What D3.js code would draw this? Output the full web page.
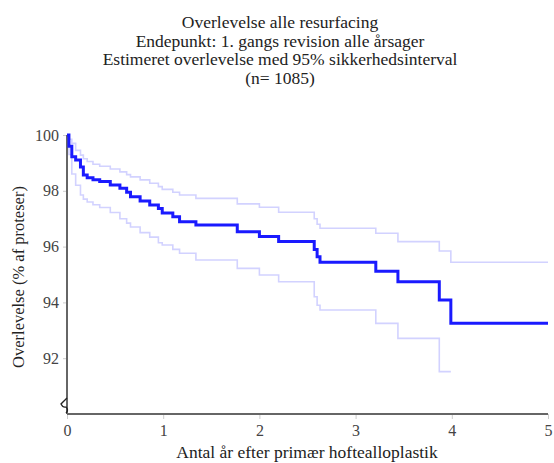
<!DOCTYPE html>
<html>
<head>
<meta charset="utf-8">
<script src="https://cdn.jsdelivr.net/npm/d3@7"></script>
<style>
  html, body { margin: 0; padding: 0; background: #fff; }
  svg { display: block; }
  svg text { font-family: "Liberation Serif", "DejaVu Serif", serif; fill: #333; }
</style>
</head>
<body>
<svg id="chart" width="554" height="463"></svg>
<script>
// Kaplan-Meier estimate with 95% confidence band
const titleLines = [
  "Overlevelse alle resurfacing",
  "Endepunkt: 1. gangs revision alle årsager",
  "Estimeret overlevelse med 95% sikkerhedsinterval",
  "(n= 1085)"
];
const years = [0, 0.02, 0.05, 0.09, 0.14, 0.17, 0.21, 0.27, 0.34, 0.45, 0.55, 0.62, 0.66, 0.76, 0.86, 0.95, 0.99,
  1.10, 1.17, 1.34, 1.77, 2.0, 2.2, 2.57, 2.6, 2.63, 3.21, 3.44, 3.87, 3.99, 5.0];
const survival = [100, 99.6, 99.22, 99.1, 98.85, 98.57, 98.47, 98.4, 98.33, 98.21, 98.09, 97.95, 97.79, 97.63, 97.49, 97.37, 97.2,
  97.07, 96.89, 96.77, 96.53, 96.36, 96.18, 95.9, 95.64, 95.44, 95.12, 94.74, 94.09, 93.25, 93.25];
const upperCI = [100, 99.85, 99.7, 99.45, 99.28, 99.15, 99.05, 98.95, 98.88, 98.78, 98.68, 98.58, 98.5, 98.39, 98.27, 98.15, 98.05,
  97.95, 97.85, 97.73, 97.53, 97.41, 97.23, 97.0, 96.8, 96.66, 96.48, 96.18, 95.84, 95.44, 95.44];
const lowerCI = [100, 99.3, 98.6, 98.2, 97.85, 97.7, 97.6, 97.5, 97.4, 97.22, 97.0, 96.84, 96.7, 96.5, 96.34, 96.14, 96.06,
  95.9, 95.76, 95.52, 95.22, 94.98, 94.74, 94.2, 93.9, 93.73, 93.25, 92.71, 91.52, 91.52, null];
const xTicks = [0, 1, 2, 3, 4, 5];
const yTicks = [92, 94, 96, 98, 100];
const xLabel = "Antal år efter primær hoftealloplastik";
const yLabel = "Overlevelse (% af proteser)";

const FONT = "'Liberation Serif', 'DejaVu Serif', serif";
const svg = d3.select("#chart");
const m = { left: 67, right: 548, top: 135, bottom: 414 };

const x = d3.scaleLinear().domain([0, 5]).range([m.left, m.right]);
const y = d3.scaleLinear().domain([90, 100]).range([m.bottom, m.top]);

// Title block
svg.append("g").selectAll("text").data(titleLines).join("text")
  .attr("x", 280).attr("y", (d, i) => 28 + i * 18.7)
  .attr("text-anchor", "middle")
  .style("font-family", FONT)
  .style("font-size", "17.5px")
  .style("fill", "#222")
  .text(d => d);

// Axes
const xAxis = svg.append("g").attr("transform", `translate(0,${m.bottom})`)
  .call(d3.axisBottom(x).tickValues(xTicks).tickSize(5).tickPadding(6).tickFormat(d3.format("d")));
const yAxis = svg.append("g").attr("transform", `translate(${m.left},0)`)
  .call(d3.axisLeft(y).tickValues(yTicks).tickSize(4).tickPadding(4).tickFormat(d3.format("d")));

[xAxis, yAxis].forEach(g => {
  g.attr("font-family", null);
  g.select(".domain").remove();
  g.selectAll(".tick line").attr("stroke", "#ccc").attr("stroke-width", 1);
  g.selectAll(".tick text").style("font-size", "16px").style("fill", "#444")
    .style("font-family", FONT);
});

svg.append("line")
  .attr("x1", m.left).attr("x2", m.left).attr("y1", y(100)).attr("y2", y(90))
  .attr("stroke", "#666").attr("stroke-width", 2);
svg.append("line")
  .attr("x1", m.left).attr("x2", x(5)).attr("y1", y(90)).attr("y2", y(90))
  .attr("stroke", "#666").attr("stroke-width", 2);

// Axis break mark
svg.append("path")
  .attr("d", `M${m.left},${y(90) - 16} L${m.left - 6},${y(90) - 10} Q${m.left - 4},${y(90) - 6} ${m.left - 1},${y(90) - 7} Q${m.left + 2},${y(90) - 4} ${m.left - 1},${y(90) - 1}`)
  .attr("fill", "none").attr("stroke", "#222").attr("stroke-width", 1.3);

// Axis titles
svg.append("text")
  .attr("x", 307).attr("y", 458)
  .attr("text-anchor", "middle").style("font-family", FONT).style("font-size", "17.5px").style("fill", "#222")
  .text(xLabel);
svg.append("text")
  .attr("transform", `translate(24,277) rotate(-90)`)
  .attr("text-anchor", "middle").style("font-family", FONT).style("font-size", "16.5px").style("fill", "#222")
  .text(yLabel);

// Curves
const rows = years.map((t, i) => ({ t, s: survival[i], hi: upperCI[i], lo: lowerCI[i] }));
const step = key => d3.line()
  .defined(d => d[key] != null)
  .x(d => x(d.t)).y(d => y(d[key]))
  .curve(d3.curveStepAfter);

svg.append("path").datum(rows).attr("d", step("hi"))
  .attr("fill", "none").attr("stroke", "#d2d2ff").attr("stroke-width", 1.6);
svg.append("path").datum(rows).attr("d", step("lo"))
  .attr("fill", "none").attr("stroke", "#d2d2ff").attr("stroke-width", 1.6);
svg.append("path").datum(rows).attr("d", step("s"))
  .attr("fill", "none").attr("stroke", "#1a1aff").attr("stroke-width", 3);
</script>
</body>
</html>
